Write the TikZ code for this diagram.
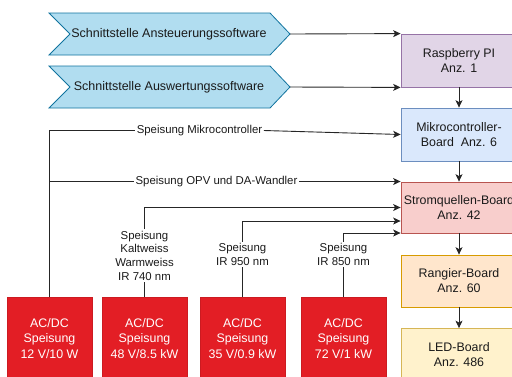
\documentclass[tikz,border=0pt]{standalone}
\usepackage{fontspec}
\setmainfont{Liberation Sans}
\usetikzlibrary{arrows.meta}
\definecolor{chevfill}{HTML}{B1DDF0}
\definecolor{chevline}{HTML}{10739E}
\definecolor{rpifill}{HTML}{E1D5E7}
\definecolor{rpiline}{HTML}{9673A6}
\definecolor{mcfill}{HTML}{DAE8FC}
\definecolor{mcline}{HTML}{6C8EBF}
\definecolor{sqfill}{HTML}{F8CECC}
\definecolor{sqline}{HTML}{B85450}
\definecolor{rgfill}{HTML}{FFE6CC}
\definecolor{rgline}{HTML}{D79B00}
\definecolor{ledfill}{HTML}{FFF2CC}
\definecolor{ledline}{HTML}{D6B656}
\definecolor{psured}{HTML}{E31E25}
\definecolor{txt}{HTML}{1A1A1A}
\begin{document}
\begin{tikzpicture}[x=1pt,y=-1pt,
  rbox/.style={rectangle, minimum width=116pt, minimum height=53pt, inner sep=0pt,
    align=center, font=\fontsize{12.4}{15}\selectfont, line width=0.8pt, text=txt},
  psu/.style={rectangle, fill=psured, draw=psured!90!black, text=white, minimum width=85pt,
    minimum height=83pt, inner sep=0pt, align=center, font=\fontsize{12.4}{15.5}\selectfont},
  lbl/.style={align=center, font=\fontsize{11.4}{13.7}\selectfont, inner sep=1.5pt, text=txt},
  chev/.style={fill=chevfill, draw=chevline, line width=0.8pt},
  chevtxt/.style={font=\fontsize{12.5}{15}\selectfont, inner sep=0pt, text=txt},
  conn/.style={line width=0.9pt, draw=black!85},
  arr/.style={conn, -{Stealth[length=7.5pt,width=7pt,inset=2pt]}}
]
\useasboundingbox (0,0) rectangle (512,376);

% chevrons
\draw[chev] (49,13) -- (270,13) -- (290,34) -- (270,55) -- (49,55) -- (70,34) -- cycle;
\node[chevtxt] (sa) at (169,34) {Schnittstelle Ansteuerungssoftware};
\coordinate (satip) at (290,34);
\draw[chev] (49,66) -- (270,66) -- (290,87) -- (270,108) -- (49,108) -- (70,87) -- cycle;
\node[chevtxt] (sb) at (169,87) {Schnittstelle Auswertungssoftware};
\coordinate (sbtip) at (290,87);

% right column
\node[rbox, fill=rpifill, draw=rpiline] (rpi) at (459,60.5) {Raspberry PI\\Anz. 1};
\node[rbox, fill=mcfill, draw=mcline] (mc) at (459,134.5) {Mikrocontroller-\\Board\ \ Anz. 6};
\node[rbox, fill=sqfill, draw=sqline, minimum height=51pt] (sq) at (459,207.5) {Stromquellen-Board\\Anz. 42};
\node[rbox, fill=rgfill, draw=rgline, minimum height=52pt] (rg) at (459,281) {Rangier-Board\\Anz. 60};
\node[rbox, fill=ledfill, draw=ledline, minimum height=52pt] (led) at (459,354.5) {LED-Board\\Anz. 486};

\draw[arr] (satip) -- (rpi.north west);
\draw[arr] (sbtip) -- (rpi.south west);
\draw[arr] (rpi) -- (mc);
\draw[arr] (mc) -- (sq);
\draw[arr] (sq) -- (rg);
\draw[arr] (rg) -- (led);

% power supplies
\node[psu] (p1) at (49.5,338.5) {AC/DC\\Speisung\\12 V/10 W};
\node[psu] (p2) at (144.5,338.5) {AC/DC\\Speisung\\48 V/8.5 kW};
\node[psu] (p3) at (242.5,338.5) {AC/DC\\Speisung\\35 V/0.9 kW};
\node[psu] (p4) at (343.5,338.5) {AC/DC\\Speisung\\72 V/1 kW};

% labels
\node[lbl] (lmc) at (199.5,130.5) {Speisung Mikrocontroller};
\node[lbl] (lopv) at (216.5,181.5) {Speisung OPV und DA-Wandler};
\node[lbl] (l2) at (144.5,255.5) {Speisung\\Kaltweiss\\Warmweiss\\IR 740 nm};
\node[lbl] (l3) at (242.5,254.5) {Speisung\\IR 950 nm};
\node[lbl] (l4) at (343.5,254.5) {Speisung\\IR 850 nm};

% connectors from supplies
\draw[conn] (p1.north) |- (lmc.west);
\draw[arr] (lmc.east) -- (mc.west);
\draw[conn] (lopv.west) -- (lopv.west -| p1.north);
\draw[arr] (lopv.east) -- (lopv.east -| sq.west);

\draw[conn] (p2.north) -- (l2.south);
\draw[arr] (l2.north) |- (sq.west);
\draw[conn] (p3.north) -- (l3.south);
\draw[arr] (l3.north) |- ([yshift=-13.5pt]sq.west);
\draw[conn] (p4.north) -- (l4.south);
\draw[arr] (l4.north) |- ([yshift=-25.5pt]sq.west);
\end{tikzpicture}
\end{document}
